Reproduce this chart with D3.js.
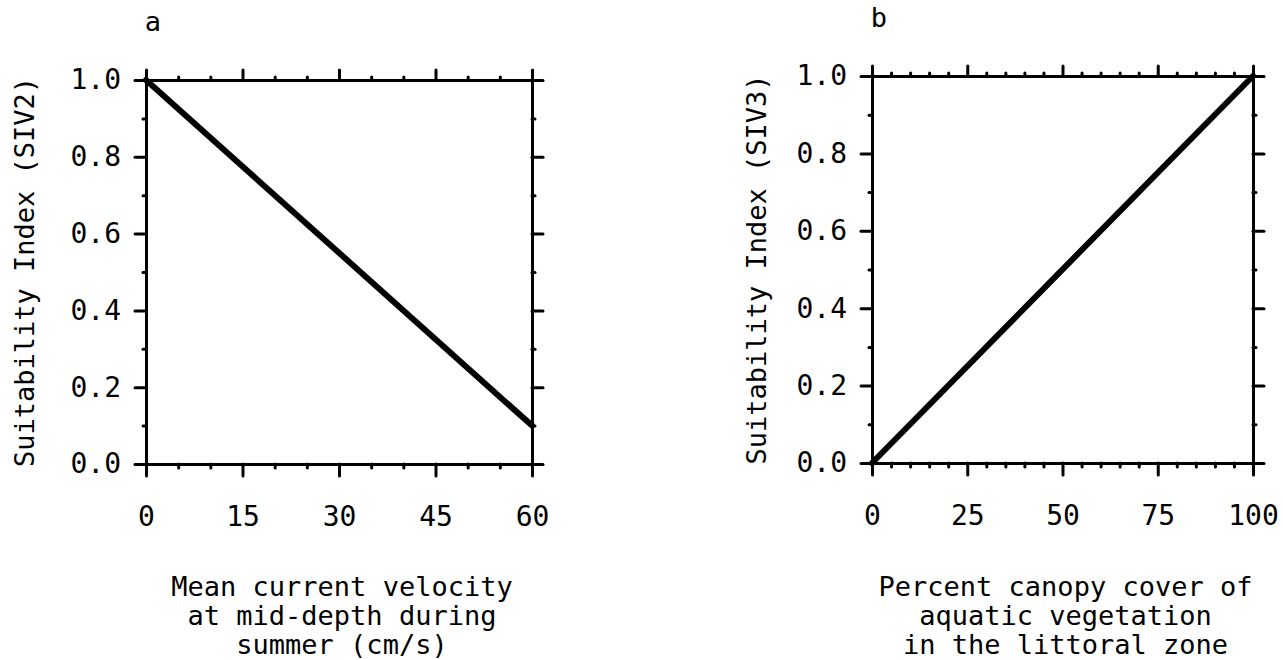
<!DOCTYPE html>
<html lang="en">
<head>
  <meta charset="UTF-8">
  <title>Suitability Index</title>
  <style>
    html, body {
      margin: 0;
      padding: 0;
      background: #fff;
    }
    text {
      font-family: "DejaVu Sans Mono", monospace;
      fill: #000;
    }
    .axis path, .axis line {
      stroke: #000;
      stroke-width: 3;
      stroke-linecap: round;
    }
    .axis text {
      font-size: 28px;
      fill: #000;
    }
    .title {
      font-size: 27px;
      text-anchor: middle;
    }
    .curve {
      fill: none;
      stroke: #000;
      stroke-width: 6;
      stroke-linecap: round;
    }
  </style>
  <script src="https://cdn.jsdelivr.net/npm/d3@7"></script>
</head>
<body>
<script>
  // panel a
  const velocityX = [0, 60];
  const siv2Y = [1.0, 0.1];
  const velocityTicks = [0, 15, 30, 45, 60];
  // panel b
  const canopyX = [0, 100];
  const siv3Y = [0.0, 1.0];
  const canopyTicks = [0, 25, 50, 75, 100];
  const indexTicks = [0.0, 0.2, 0.4, 0.6, 0.8, 1.0];

  const width = 1283;
  const height = 660;

  const svg = d3.select('body').append('svg')
    .attr('width', width)
    .attr('height', height);

  const panels = [
    {
      letter: 'a',
      box: { left: 146, right: 532, top: 80, bottom: 464 },
      xMax: 60, xMinor: 5,
      xTicks: velocityTicks,
      xs: velocityX, ys: siv2Y,
      yTitle: 'Suitability Index (SIV2)', yTitleX: 34,
      xTitle: ['Mean current velocity', 'at mid-depth during', 'summer (cm/s)']
    },
    {
      letter: 'b',
      box: { left: 872, right: 1253, top: 76, bottom: 463 },
      xMax: 100, xMinor: 5,
      xTicks: canopyTicks,
      xs: canopyX, ys: siv3Y,
      yTitle: 'Suitability Index (SIV3)', yTitleX: 766,
      xTitle: ['Percent canopy cover of', 'aquatic vegetation', 'in the littoral zone']
    }
  ];

  panels.forEach((p) => {
    const b = p.box;
    const x = d3.scaleLinear().domain([0, p.xMax]).range([b.left, b.right]);
    const y = d3.scaleLinear().domain([0, 1]).range([b.bottom, b.top]);
    const xMinorTicks = d3.range(0, p.xMax + 0.001, p.xMinor).filter((v) => !p.xTicks.includes(v));
    const yMinorTicks = d3.range(0.1, 1, 0.2);

    const g = svg.append('g');

    // minor ticks
    g.append('g').attr('class', 'axis')
      .attr('transform', `translate(0,${b.bottom})`)
      .call(d3.axisBottom(x).tickValues(xMinorTicks).tickSize(4).tickSizeOuter(0).tickFormat(''));
    g.append('g').attr('class', 'axis')
      .attr('transform', `translate(0,${b.top})`)
      .call(d3.axisTop(x).tickValues(xMinorTicks).tickSize(3).tickSizeOuter(0).tickFormat(''));
    g.append('g').attr('class', 'axis')
      .attr('transform', `translate(${b.left},0)`)
      .call(d3.axisLeft(y).tickValues(yMinorTicks).tickSize(3).tickSizeOuter(0).tickFormat(''));
    g.append('g').attr('class', 'axis')
      .attr('transform', `translate(${b.right},0)`)
      .call(d3.axisRight(y).tickValues(yMinorTicks).tickSize(3).tickSizeOuter(0).tickFormat(''));

    // major ticks
    g.append('g').attr('class', 'axis')
      .attr('transform', `translate(0,${b.bottom})`)
      .call(d3.axisBottom(x).tickValues(p.xTicks).tickSize(12).tickSizeOuter(0).tickPadding(30));
    g.append('g').attr('class', 'axis')
      .attr('transform', `translate(0,${b.top})`)
      .call(d3.axisTop(x).tickValues(p.xTicks).tickSize(10).tickSizeOuter(0).tickFormat(''));
    g.append('g').attr('class', 'axis')
      .attr('transform', `translate(${b.left},0)`)
      .call(d3.axisLeft(y).tickValues(indexTicks).tickSize(11).tickSizeOuter(0)
        .tickPadding(14).tickFormat(d3.format('.1f')));
    g.append('g').attr('class', 'axis')
      .attr('transform', `translate(${b.right},0)`)
      .call(d3.axisRight(y).tickValues(indexTicks).tickSize(11).tickSizeOuter(0).tickFormat(''));

    // data line
    const pts = p.xs.map((v, i) => [v, p.ys[i]]);
    g.append('path')
      .attr('class', 'curve')
      .attr('d', d3.line().x((d) => x(d[0])).y((d) => y(d[1]))(pts));

    // panel letter
    g.append('text')
      .attr('class', 'title')
      .attr('x', b.left + 7)
      .attr('y', 31 - (80 - b.top))
      .text(p.letter);

    // y title
    g.append('text')
      .attr('class', 'title')
      .attr('transform', `translate(${p.yTitleX},${(b.top + b.bottom) / 2}) rotate(-90)`)
      .text(p.yTitle);

    // x title
    const cx = (b.left + b.right) / 2 + 3;
    p.xTitle.forEach((line, i) => {
      g.append('text')
        .attr('class', 'title')
        .attr('x', cx)
        .attr('y', 596 + i * 29)
        .text(line);
    });
  });
</script>
</body>
</html>
